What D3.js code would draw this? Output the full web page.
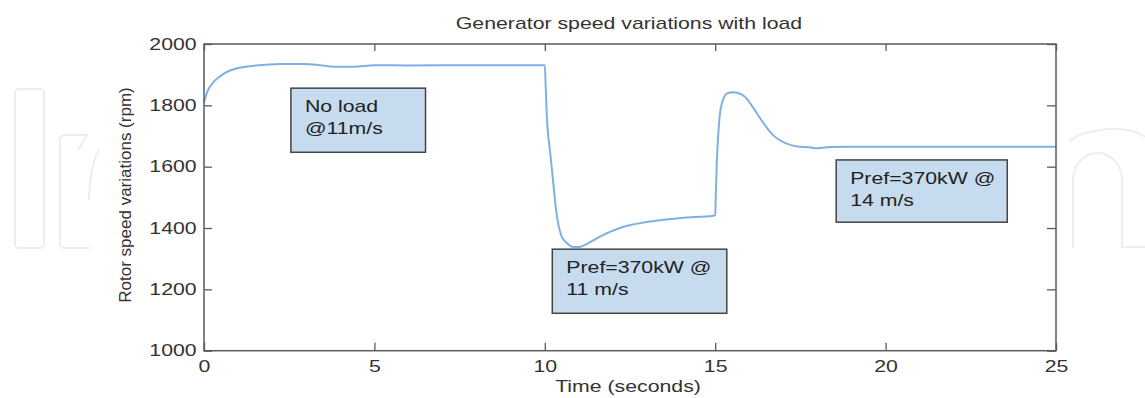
<!DOCTYPE html>
<html>
<head>
<meta charset="utf-8">
<script src="https://cdn.jsdelivr.net/npm/d3@7"></script>
<style>
  html, body { margin: 0; padding: 0; background: #fff; }
  svg { display: block; font-family: "Liberation Sans", Arial, sans-serif; }
</style>
</head>
<body>
<div id="chart"></div>
<script>
// generator speed (rpm), time in seconds
const times = [0, 0.1, 0.29, 0.59, 0.97, 1.47, 2.26, 2.93, 3.4, 3.81, 4.4, 4.99, 6, 8,
  10.0, 10.03, 10.06, 10.15, 10.24, 10.33, 10.5, 10.65, 10.8, 11.0, 11.18, 11.62, 12.2, 13.09, 14, 14.95,
  15.0, 15.02, 15.05, 15.12, 15.2, 15.35, 15.52, 15.67, 15.87, 16.1, 16.31, 16.55, 16.75, 17.0, 17.2, 17.5, 17.78, 17.93, 18.37, 19, 20, 25];
const speeds = [1810, 1845, 1877, 1904, 1921, 1929, 1935, 1935, 1931, 1926, 1926, 1931, 1930, 1931,
  1931, 1850, 1762, 1654, 1557, 1459, 1371, 1351, 1339, 1338, 1345, 1372, 1400, 1421, 1433, 1440,
  1442, 1520, 1622, 1752, 1808, 1839, 1843, 1840, 1828, 1795, 1759, 1722, 1698, 1680, 1671, 1665, 1663, 1660, 1664, 1665, 1665, 1665];

const xTicks = [0, 5, 10, 15, 20, 25];
const yTicks = [1000, 1200, 1400, 1600, 1800, 2000];

// annotation boxes in data units: [t0, t1, top rpm, bottom rpm]
const noteLines = [["No load", "@11m/s"], ["Pref=370kW @", "11 m/s"], ["Pref=370kW @", "14 m/s"]];
const noteSpans = [[2.55, 6.5, 1856, 1647], [10.22, 15.34, 1331, 1122], [18.55, 23.57, 1622, 1419]];

const titleText = "Generator speed variations with load";
const xLabel = "Time (seconds)";
const yLabel = "Rotor speed variations (rpm)";

const width = 1145, height = 398;
const margin = { top: 44, right: 89, bottom: 47.3, left: 204 };
const K = 1.33; // the figure's text is stretched sideways

const svg = d3.select("#chart").append("svg")
  .attr("width", width)
  .attr("height", height);

// faint logo watermark behind the plot
const wm = svg.append("g").attr("fill", "none").attr("stroke", "#ededed").attr("stroke-width", 2);
wm.append("rect").attr("x", 15).attr("y", 89).attr("width", 29).attr("height", 159).attr("rx", 4);
wm.append("path").attr("d", "M89,248 H65 Q60,248 60,243 V140 Q60,135 65,135 H87 L78,150 M99,150 Q90,165 89,200");
wm.append("path").attr("d", "M1073,247 V180 A24.5,27 0 0 1 1122,180 V247 H1145");
wm.append("path").attr("d", "M1069,142 C1082,128 1128,124 1145,137");

const x = d3.scaleLinear().domain([0, 25]).range([margin.left, width - margin.right]);
const y = d3.scaleLinear().domain([1000, 2000]).range([height - margin.bottom, margin.top]);

const axisColor = "#5a5a5a";
const textColor = "#333";

// notes
noteSpans.forEach((s, i) => {
  const g = svg.append("g");
  const x0 = x(s[0]), x1 = x(s[1]), y0 = y(s[2]), y1 = y(s[3]);
  g.append("rect")
    .attr("x", x0).attr("y", y0)
    .attr("width", x1 - x0).attr("height", y1 - y0)
    .attr("fill", "#c6dbee")
    .attr("stroke", "#444")
    .attr("stroke-width", 1.5);
  noteLines[i].forEach((t, j) => {
    g.append("text")
      .attr("transform", `translate(${x0 + 14},${y0 + 24 + j * 22}) scale(${K},1)`)
      .attr("fill", "#222")
      .style("font-size", "16px")
      .text(t);
  });
});

// speed curve
const line = d3.line()
  .x((d, i) => x(times[i]))
  .y(d => y(d))
  .curve(d3.curveMonotoneX);

svg.append("path")
  .datum(speeds)
  .attr("fill", "none")
  .attr("stroke", "#7fb0e3")
  .attr("stroke-width", 2)
  .attr("stroke-linejoin", "round")
  .attr("d", line);

// axes, ticks pointing inward
function styleAxis(g) {
  g.select(".domain").remove();
  g.selectAll(".tick line").attr("stroke", axisColor).attr("stroke-width", 1.3);
  g.selectAll("text")
    .attr("fill", textColor)
    .style("font-size", "16px")
    .style("font-family", "'Liberation Sans', Arial, sans-serif");
}

svg.append("g")
  .attr("transform", `translate(0,${height - margin.bottom})`)
  .call(d3.axisBottom(x).tickValues(xTicks).tickSizeInner(-8).tickSizeOuter(0).tickPadding(9.6))
  .call(styleAxis)
  .selectAll("text").attr("transform", `scale(${K},1)`);

svg.append("g")
  .attr("transform", `translate(${margin.left},0)`)
  .call(d3.axisLeft(y).tickValues(yTicks).tickFormat(d3.format("d")).tickSizeInner(-8).tickSizeOuter(0).tickPadding(5.5))
  .call(styleAxis)
  .selectAll("text").attr("transform", `scale(${K},1)`);

svg.append("g")
  .attr("transform", `translate(0,${margin.top})`)
  .call(d3.axisTop(x).tickValues(xTicks).tickSizeInner(-7).tickSizeOuter(0).tickFormat(""))
  .call(styleAxis);

svg.append("g")
  .attr("transform", `translate(${width - margin.right},0)`)
  .call(d3.axisRight(y).tickValues(yTicks).tickSizeInner(-9).tickSizeOuter(0).tickFormat(""))
  .call(styleAxis);

// plot frame
svg.append("rect")
  .attr("x", margin.left).attr("y", margin.top)
  .attr("width", width - margin.left - margin.right)
  .attr("height", height - margin.top - margin.bottom)
  .attr("fill", "none")
  .attr("stroke", axisColor)
  .attr("stroke-width", 1.5);

// titles
svg.append("text")
  .attr("transform", `translate(629,29) scale(${K},1)`)
  .attr("text-anchor", "middle")
  .attr("fill", textColor)
  .style("font-size", "16px")
  .text(titleText);

svg.append("text")
  .attr("transform", `translate(628,392) scale(${K},1)`)
  .attr("text-anchor", "middle")
  .attr("fill", textColor)
  .style("font-size", "16px")
  .text(xLabel);

svg.append("text")
  .attr("transform", "translate(131,195) rotate(-90)")
  .attr("text-anchor", "middle")
  .attr("fill", textColor)
  .style("font-size", "17px")
  .text(yLabel);
</script>
</body>
</html>
